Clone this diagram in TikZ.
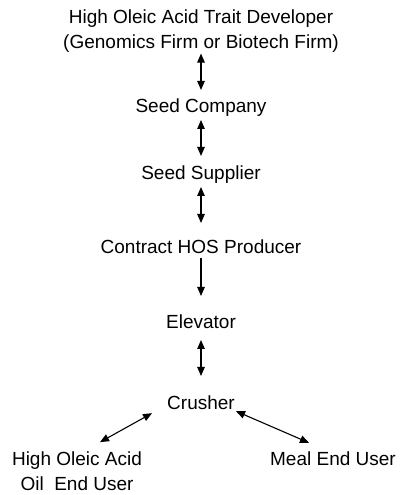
\documentclass[tikz,border=0pt]{standalone}
\usepackage{fontspec}
\setmainfont{Liberation Sans}
\usetikzlibrary{arrows.meta}
\begin{document}
\begin{tikzpicture}[x=1pt,y=1pt,
  lbl/.style={inner sep=0pt, font=\fontsize{19}{25}\selectfont, align=center},
  word/.style={lbl, text height=13.6pt, text depth=0pt},
  tip/.style={Triangle[length=9pt,width=7.5pt]},
  link/.style={line width=1.1pt, {Triangle[length=9pt,width=7.5pt]}-{Triangle[length=9pt,width=7.5pt]}},
  flow/.style={line width=1.1pt, -{Triangle[length=9pt,width=7.5pt]}}]
\useasboundingbox (0,0) rectangle (402,495);
% supply chain stages, top to bottom
\node[lbl]  (dev)   at (201,464) {High Oleic Acid Trait Developer\\(Genomics Firm or Biotech Firm)};
\node[word] (seed)  at (201,389) {Seed Company};
\node[word] (supp)  at (201,322) {Seed Supplier};
\node[word] (prod)  at (201,248) {Contract HOS Producer};
\node[word] (elev)  at (201,173) {Elevator};
\node[word] (crush) at (201,92)  {Crusher};
\node[lbl]  (oil)   at (77,24)   {High Oleic Acid\\Oil\ \ End User};
\node[word] (meal)  at (333,36)  {Meal End User};
% links between stages
\draw[link, shorten <=1pt, shorten >=9pt]   (dev.south)  -- (seed.north);
\draw[link, shorten <=7pt, shorten >=10pt]  (seed.south) -- (supp.north);
\draw[link, shorten <=7pt, shorten >=17pt]  (supp.south) -- (prod.north);
\draw[flow, shorten <=4pt, shorten >=19pt]  (prod.south) -- (elev.north);
\draw[link, shorten <=11pt, shorten >=20pt] (elev.south) -- (crush.north);
\draw[link] ([shift={(-15,-3.2)}]crush.south west) -- ([shift={(23,9.2)}]oil.north);
\draw[link] ([shift={(1,-1.2)}]crush.south east) -- ([shift={(-24,9.2)}]meal.north);
\end{tikzpicture}
\end{document}
